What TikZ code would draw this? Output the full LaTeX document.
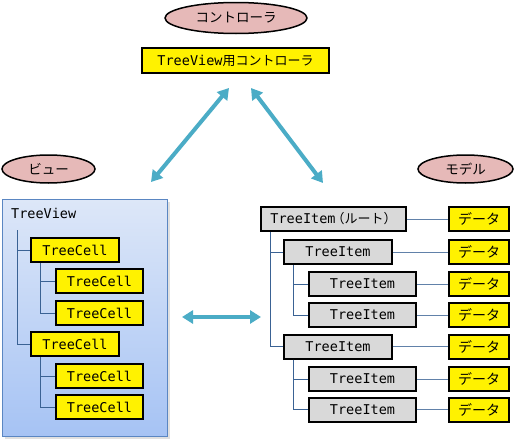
\documentclass[tikz,border=0pt]{standalone}
\usepackage{fontspec}
\setmonofont{DejaVu Sans Mono}
\newfontfamily\jp{Noto Sans CJK JP}
\usetikzlibrary{arrows.meta,shapes.geometric}
\definecolor{teal1}{HTML}{4BACC6}
\definecolor{pinkf}{HTML}{E6B9B8}
\definecolor{grayf}{HTML}{D9D9D9}
\definecolor{treeln}{HTML}{3A6294}
\definecolor{panelb}{HTML}{5A86C2}
\definecolor{paneltop}{HTML}{DDE7F8}
\definecolor{panelbot}{HTML}{A6C3F4}
\tikzset{
  oval/.style={ellipse, draw, line width=1.5pt, fill=pinkf, inner sep=0pt,
    font=\jp\fontsize{13.5}{15}\selectfont},
  ybox/.style={draw, line width=2pt, fill=yellow, inner sep=0pt, minimum height=24pt,
    font=\ttfamily\fontsize{13.5}{15}\selectfont},
  dbox/.style={ybox, minimum width=60pt, font=\jp\fontsize{14}{15}\selectfont},
  gbox/.style={draw, line width=2pt, fill=grayf, inner sep=0pt, minimum height=24pt,
    font=\ttfamily\fontsize{13.5}{15}\selectfont},
  tline/.style={draw=treeln, line width=1pt},
  dline/.style={draw=treeln!80, line width=1pt},
  bigarrow/.style={draw=teal1, line width=4pt, {Triangle[length=11pt,width=13pt]}-{Triangle[length=11pt,width=13pt]}},
}
\begin{document}
\begin{tikzpicture}[x=1pt,y=-1pt]
\useasboundingbox (0,0) rectangle (516,439);
% controller
\node[oval, minimum width=142pt, minimum height=31pt] (ctl) at (236,18) {コントローラ};
\node[ybox, minimum width=187pt, minimum height=25pt] (ctrlbox) at (235.5,60.5)
  {TreeView{\jp\fontsize{13}{15}\selectfont 用コントローラ}};
\node[oval, minimum width=93pt, minimum height=28pt] (viewo) at (48.5,169) {ビュー};
\node[oval, minimum width=95pt, minimum height=28pt] (modelo) at (465.5,169) {モデル};
% panel
\fill[black, opacity=0.12] (5,202) rectangle (170,439);
\path[draw=panelb, line width=1pt, top color=paneltop, bottom color=panelbot]
  (2,199) rectangle (167,436);
\node[anchor=west, inner sep=0pt, font=\ttfamily\fontsize{13.5}{15}\selectfont] (tvlabel) at (11,213) {TreeView};
% cells
\node[ybox, minimum width=88pt] (c1) at (75,250) {TreeCell};
\node[ybox, minimum width=87pt] (c2) at (99.5,281) {TreeCell};
\node[ybox, minimum width=87pt] (c3) at (99.5,313) {TreeCell};
\node[ybox, minimum width=88pt] (c4) at (75,344) {TreeCell};
\node[ybox, minimum width=87pt] (c5) at (99.5,376) {TreeCell};
\node[ybox, minimum width=87pt] (c6) at (99.5,407) {TreeCell};
\coordinate (vtop) at (17,230);
\draw[tline] (vtop) |- (c1.west);
\draw[tline] (vtop) |- (c4.west);
\draw[tline] ([xshift=10pt]c1.south west) |- (c2.west);
\draw[tline] ([xshift=10pt]c1.south west) |- (c3.west);
\draw[tline] ([xshift=10pt]c4.south west) |- (c5.west);
\draw[tline] ([xshift=10pt]c4.south west) |- (c6.west);
% model
\node[gbox, minimum width=145pt] (r) at (333.5,219) {TreeItem{\jp\fontsize{13}{15}\selectfont\hspace{-4pt}（ルート）}};
\node[gbox, minimum width=108pt] (i1) at (338,252) {TreeItem};
\node[gbox, minimum width=107pt] (i2) at (362.5,284) {TreeItem};
\node[gbox, minimum width=107pt] (i3) at (362.5,315) {TreeItem};
\node[gbox, minimum width=108pt] (i4) at (338,346.5) {TreeItem};
\node[gbox, minimum width=107pt] (i5) at (362.5,379) {TreeItem};
\node[gbox, minimum width=107pt] (i6) at (362.5,409.5) {TreeItem};
\foreach \n/\y in {0/219,1/252,2/284,3/315,4/346.5,5/379,6/409.5}{
  \node[dbox] (d\n) at (479,\y) {データ};
}
\draw[dline] (r) -- (d0);
\draw[dline] (i1) -- (d1);
\draw[dline] (i2) -- (d2);
\draw[dline] (i3) -- (d3);
\draw[dline] (i4) -- (d4);
\draw[dline] (i5) -- (d5);
\draw[dline] (i6) -- (d6);
\draw[tline] ([xshift=10pt]r.south west) |- (i1.west);
\draw[tline] ([xshift=10pt]r.south west) |- (i4.west);
\draw[tline] ([xshift=10pt]i1.south west) |- (i2.west);
\draw[tline] ([xshift=10pt]i1.south west) |- (i3.west);
\draw[tline] ([xshift=10pt]i4.south west) |- (i5.west);
\draw[tline] ([xshift=10pt]i4.south west) |- (i6.west);
% arrows
\coordinate (a1s) at (151,182);
\coordinate (a1e) at (229,88);
\coordinate (a2s) at (251,88);
\coordinate (a2e) at (323,183);
\coordinate (a3s) at (182,317);
\coordinate (a3e) at (261,317);
\draw[bigarrow] (a1s) -- (a1e);
\draw[bigarrow] (a2s) -- (a2e);
\draw[bigarrow] (a3s) -- (a3e);
\end{tikzpicture}
\end{document}
